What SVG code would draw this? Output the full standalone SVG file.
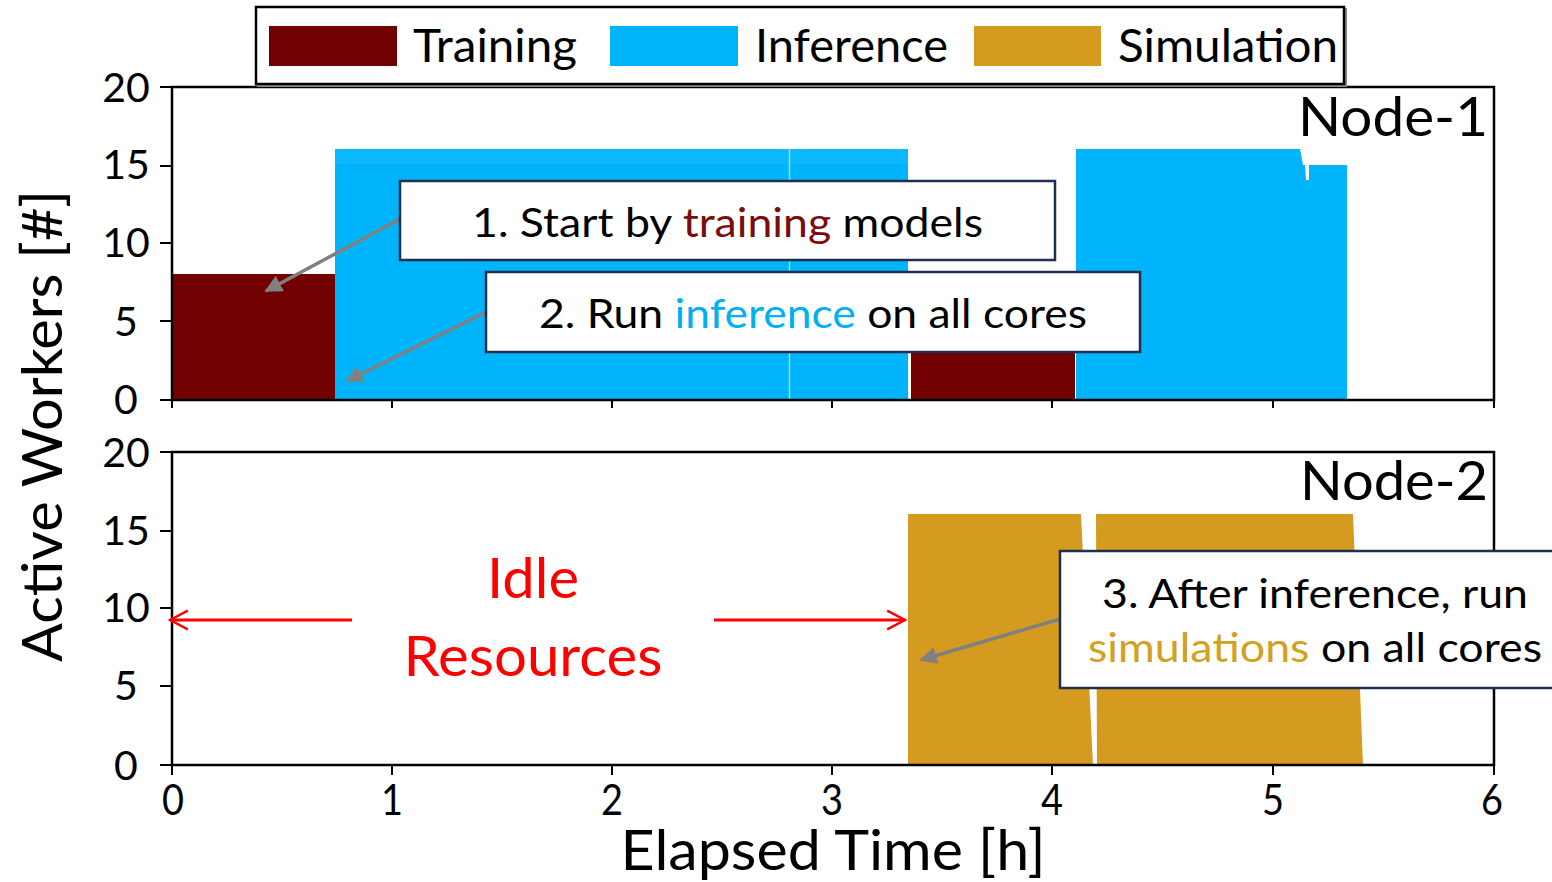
<svg xmlns="http://www.w3.org/2000/svg" width="1552" height="882" viewBox="0 0 1552 882">
  <style>
    text { font-family: Lato, "Open Sans", "Liberation Sans", sans-serif; fill: #000; }
    .ytick { font-size: 41px; text-anchor: middle; }
    .xtick { font-size: 42px; text-anchor: middle; }
    .title { font-size: 57px; text-anchor: middle; }
    .leg { font-size: 46px; }
    .note { font-size: 40px; }
    .axis { stroke: #000; stroke-width: 2.5; fill: none; }
    .tick { stroke: #000; stroke-width: 2; }
    .train { fill: #730000; }
    .inf { fill: #00b4fb; }
    .sim { fill: #d49b20; }
    .box { fill: #fff; stroke: #1f2f4f; stroke-width: 2.5; }
    .gray { stroke: #808080; stroke-width: 3.5; fill: none; }
    .red { stroke: #ff0000; stroke-width: 3; fill: none; }
    .idle { font-size: 56px; fill: #ff0000; text-anchor: middle; }
  </style>
  <defs>
    <marker id="grayHead" viewBox="0 0 10 10" refX="9" refY="5" markerWidth="5" markerHeight="5" orient="auto" markerUnits="strokeWidth">
      <path d="M0,0 L10,5 L0,10 z" fill="#808080"/>
    </marker>
    <marker id="redHead" viewBox="0 0 12 12" refX="11" refY="6" markerWidth="7.5" markerHeight="7.5" orient="auto" markerUnits="strokeWidth">
      <path d="M1.5,1 L11,6 L1.5,11" fill="none" stroke="#ff0000" stroke-width="1.3"/>
    </marker>
  </defs>

  <rect width="1552" height="882" fill="#fff"/>

  <!-- Node-1 panel: workload bars -->
  <g id="panel-node1">
    <rect class="train" x="172" y="274" width="163" height="126"/>
    <rect class="inf" x="335" y="149" width="573" height="251"/>
    <rect x="335" y="149" width="573" height="15" fill="#16b9fb" opacity="0.6"/>
    <line x1="789.5" y1="149" x2="789.5" y2="400" stroke="#8fdcfc" stroke-width="1.5"/>
    <rect class="train" x="911" y="290" width="164" height="110"/>
    <polygon class="inf" points="1076,400 1076,149 1300,149 1303,165 1305,165 1306,180 1309,180 1309,165 1347,165 1347,400"/>
    <text x="1393" y="136" font-size="54" text-anchor="middle" textLength="190" lengthAdjust="spacingAndGlyphs">Node-1</text>
  </g>

  <!-- Node-2 panel: workload bars -->
  <g id="panel-node2">
    <polygon class="sim" points="908,765 908,514 1081,514 1093,765"/>
    <polygon class="sim" points="1097,765 1096,514 1353,514 1363,765"/>
    <text x="1394" y="500" font-size="54" text-anchor="middle" textLength="188" lengthAdjust="spacingAndGlyphs">Node-2</text>
  </g>

  <!-- Axes, frames and ticks -->
  <g id="axes">
    <rect class="axis" x="172" y="87" width="1322" height="313"/>
    <rect class="axis" x="172" y="452" width="1322" height="313"/>
    <g class="tick">
      <line x1="160" y1="87" x2="172" y2="87"/>
      <line x1="160" y1="166" x2="172" y2="166"/>
      <line x1="160" y1="243" x2="172" y2="243"/>
      <line x1="160" y1="321" x2="172" y2="321"/>
      <line x1="160" y1="400" x2="172" y2="400"/>
      <line x1="160" y1="452" x2="172" y2="452"/>
      <line x1="160" y1="531" x2="172" y2="531"/>
      <line x1="160" y1="608" x2="172" y2="608"/>
      <line x1="160" y1="686" x2="172" y2="686"/>
      <line x1="160" y1="765" x2="172" y2="765"/>
      <line x1="172" y1="400" x2="172" y2="408"/>
      <line x1="392" y1="400" x2="392" y2="408"/>
      <line x1="612" y1="400" x2="612" y2="408"/>
      <line x1="832" y1="400" x2="832" y2="408"/>
      <line x1="1052" y1="400" x2="1052" y2="408"/>
      <line x1="1273" y1="400" x2="1273" y2="408"/>
      <line x1="1494" y1="400" x2="1494" y2="408"/>
      <line x1="172" y1="765" x2="172" y2="775"/>
      <line x1="392" y1="765" x2="392" y2="775"/>
      <line x1="612" y1="765" x2="612" y2="775"/>
      <line x1="832" y1="765" x2="832" y2="775"/>
      <line x1="1052" y1="765" x2="1052" y2="775"/>
      <line x1="1273" y1="765" x2="1273" y2="775"/>
      <line x1="1494" y1="765" x2="1494" y2="775"/>
    </g>
    <text class="ytick" x="126" y="102">20</text>
    <text class="ytick" x="126" y="179">15</text>
    <text class="ytick" x="126" y="257">10</text>
    <text class="ytick" x="126" y="336">5</text>
    <text class="ytick" x="126" y="414">0</text>
    <text class="ytick" x="126" y="467">20</text>
    <text class="ytick" x="126" y="545">15</text>
    <text class="ytick" x="126" y="622">10</text>
    <text class="ytick" x="126" y="700">5</text>
    <text class="ytick" x="126" y="780">0</text>
    <text class="xtick" x="173" y="815" textLength="22" lengthAdjust="spacingAndGlyphs">0</text>
    <text class="xtick" x="392" y="815" textLength="22" lengthAdjust="spacingAndGlyphs">1</text>
    <text class="xtick" x="612" y="815" textLength="22" lengthAdjust="spacingAndGlyphs">2</text>
    <text class="xtick" x="832" y="815" textLength="22" lengthAdjust="spacingAndGlyphs">3</text>
    <text class="xtick" x="1052" y="815" textLength="22" lengthAdjust="spacingAndGlyphs">4</text>
    <text class="xtick" x="1273" y="815" textLength="22" lengthAdjust="spacingAndGlyphs">5</text>
    <text class="xtick" x="1492" y="815" textLength="22" lengthAdjust="spacingAndGlyphs">6</text>
    <text class="title" x="833" y="870" textLength="425" lengthAdjust="spacingAndGlyphs">Elapsed Time [h]</text>
    <text class="title" transform="translate(62,426) rotate(-90)" x="0" y="0" textLength="472" lengthAdjust="spacingAndGlyphs">Active Workers [#]</text>
  </g>

  <!-- Legend -->
  <g id="legend">
    <rect x="258" y="9" width="1088" height="77" fill="none" stroke="#888" stroke-width="2"/>
    <rect x="256" y="7" width="1088" height="77" fill="#fff" stroke="#000" stroke-width="2.5"/>
    <rect class="train" x="269" y="26" width="128" height="40"/>
    <text class="leg" x="413" y="62" textLength="164" lengthAdjust="spacingAndGlyphs">Training</text>
    <rect class="inf" x="610" y="26" width="128" height="40"/>
    <text class="leg" x="755" y="62" textLength="193" lengthAdjust="spacingAndGlyphs">Inference</text>
    <rect class="sim" x="974" y="26" width="127" height="40"/>
    <text class="leg" x="1118" y="62" textLength="220" lengthAdjust="spacingAndGlyphs">Simulation</text>
  </g>

  <!-- Idle resources label -->
  <g id="idle-label">
    <text class="idle" x="533" y="598" textLength="92" lengthAdjust="spacingAndGlyphs">Idle</text>
    <text class="idle" x="533" y="676" textLength="259" lengthAdjust="spacingAndGlyphs">Resources</text>
  </g>

  <!-- Connectors -->
  <g id="connectors">
    <line class="gray" x1="400" y1="219" x2="266" y2="291" marker-end="url(#grayHead)"/>
    <line class="gray" x1="486" y1="312" x2="347" y2="381" marker-end="url(#grayHead)"/>
    <line class="gray" x1="1060" y1="619" x2="921" y2="660" marker-end="url(#grayHead)"/>
    <line class="red" x1="352" y1="620" x2="170" y2="620" marker-end="url(#redHead)"/>
    <line class="red" x1="714" y1="620" x2="905" y2="620" marker-end="url(#redHead)"/>
  </g>

  <!-- Annotation 1 -->
  <g id="note-training">
    <rect class="box" x="400" y="181" width="655" height="79"/>
    <text class="note" x="472" y="237" textLength="511" lengthAdjust="spacingAndGlyphs">1. Start by <tspan fill="#7a0c0c">training</tspan> models</text>
  </g>

  <!-- Annotation 2 -->
  <g id="note-inference">
    <rect class="box" x="486" y="272" width="654" height="80"/>
    <text class="note" x="539" y="328" textLength="548" lengthAdjust="spacingAndGlyphs">2. Run <tspan fill="#00b0f0">inference</tspan> on all cores</text>
  </g>

  <!-- Annotation 3 -->
  <g id="note-simulation">
    <rect class="box" x="1060" y="551" width="500" height="137"/>
    <text class="note" x="1102" y="608" textLength="426" lengthAdjust="spacingAndGlyphs">3. After inference, run</text>
    <text class="note" x="1088" y="662" textLength="454" lengthAdjust="spacingAndGlyphs"><tspan fill="#d4a020">simulations</tspan> on all cores</text>
  </g>
</svg>
